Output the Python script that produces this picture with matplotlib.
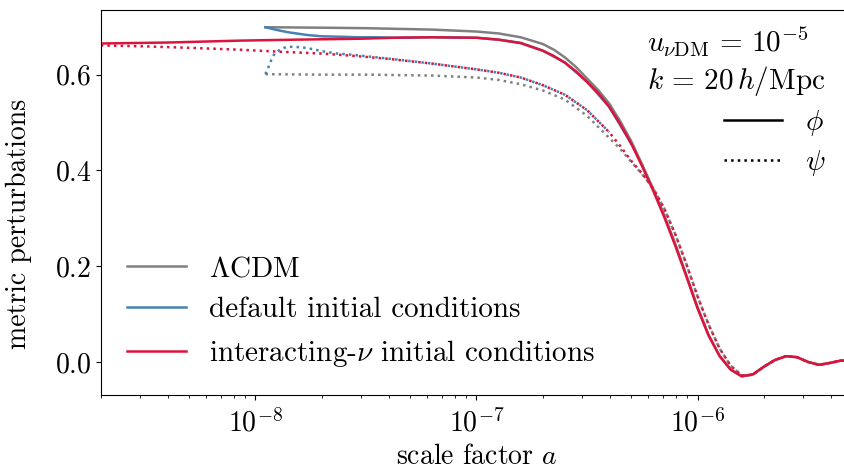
import numpy as np
import matplotlib
matplotlib.use('Agg')
import matplotlib.pyplot as plt
from matplotlib.lines import Line2D

plt.rcParams.update({
    'font.family': 'serif',
    'font.serif': ['cmr10'],
    'mathtext.fontset': 'cm',
    'axes.formatter.use_mathtext': True,
    'font.size': 20,
})

# log10 of scale factor for the late-time (shared) part of the curves
loga_late = [-6.3, -6.25, -6.2, -6.15, -6.1, -6.05, -6.0, -5.95, -5.9, -5.85, -5.8,
             -5.75, -5.7, -5.65, -5.6, -5.55, -5.5, -5.45, -5.4, -5.35, -5.3]

# interacting-nu initial conditions, phi
loga_int_phi = [-8.7, -8.4, -8.07, -7.82, -7.52, -7.38, -7.2, -7.0, -6.9, -6.8, -6.7,
                -6.65, -6.6, -6.55, -6.5, -6.45, -6.4, -6.35] + loga_late
int_phi = [0.665, 0.667, 0.671, 0.673, 0.675, 0.677, 0.678, 0.677, 0.673, 0.666, 0.650,
           0.639, 0.625, 0.607, 0.585, 0.562, 0.533, 0.497,
           0.456, 0.408, 0.357, 0.302, 0.242, 0.178, 0.112, 0.055, 0.012, -0.016, -0.030,
           -0.026, -0.010, 0.004, 0.012, 0.010, 0.000, -0.006, -0.002, 0.003, 0.001]

# interacting-nu initial conditions, psi
loga_int_psi = [-8.7, -8.5, -8.3, -8.07, -7.9, -7.7, -7.55, -7.4, -7.2, -7.0, -6.9,
                -6.8, -6.7, -6.6, -6.5, -6.4, -6.35] + loga_late
int_psi = [0.661, 0.659, 0.656, 0.652, 0.648, 0.644, 0.639, 0.633, 0.623, 0.611, 0.604,
           0.594, 0.578, 0.558, 0.526, 0.480, 0.451,
           0.420, 0.393, 0.362, 0.320, 0.266, 0.204, 0.137, 0.078, 0.028, -0.008, -0.028,
           -0.027, -0.010, 0.004, 0.012, 0.010, 0.000, -0.006, -0.002, 0.003, 0.001]

# LCDM, phi
loga_lcdm_phi = [-7.955, -7.7, -7.5, -7.2, -7.0, -6.9, -6.8, -6.7, -6.65, -6.6, -6.55,
                 -6.5, -6.45, -6.4, -6.35] + loga_late
lcdm_phi = [0.699, 0.698, 0.697, 0.694, 0.690, 0.686, 0.678, 0.664, 0.652, 0.636, 0.616,
            0.592, 0.568, 0.540, 0.503,
            0.461, 0.412, 0.361, 0.306, 0.246, 0.181, 0.115, 0.057, 0.013, -0.016, -0.030,
            -0.026, -0.010, 0.004, 0.012, 0.010, 0.000, -0.006, -0.002, 0.003, 0.001]

# LCDM, psi
loga_lcdm_psi = [-7.955, -7.7, -7.5, -7.2, -7.0, -6.9, -6.8, -6.7, -6.6, -6.5, -6.4,
                 -6.35] + loga_late
lcdm_psi = [0.601, 0.600, 0.600, 0.598, 0.594, 0.589, 0.580, 0.567, 0.548, 0.514, 0.468,
            0.445,
            0.418, 0.392, 0.362, 0.320, 0.266, 0.204, 0.137, 0.078, 0.028, -0.008, -0.028,
            -0.027, -0.010, 0.004, 0.012, 0.010, 0.000, -0.006, -0.002, 0.003, 0.001]

# default initial conditions, phi (hidden under the red curve once it has converged)
loga_def_phi = [-7.955, -7.92, -7.88, -7.845, -7.8, -7.77, -7.7, -7.6, -7.54, -7.45,
                -7.38, -7.2, -7.0, -6.9, -6.8, -6.7, -6.6, -6.5, -6.4, -6.3]
def_phi = [0.699, 0.695, 0.691, 0.688, 0.685, 0.683, 0.680, 0.679, 0.678, 0.678,
           0.677, 0.678, 0.677, 0.673, 0.666, 0.650, 0.625, 0.585, 0.533, 0.456]

# default initial conditions, psi
loga_def_psi = [-7.955, -7.94, -7.928, -7.914, -7.893, -7.86, -7.83, -7.79, -7.76, -7.7,
                -7.63, -7.575, -7.47, -7.35, -7.2, -7.0, -6.9, -6.8, -6.7, -6.6, -6.5, -6.4]
def_psi = [0.601, 0.617, 0.631, 0.644, 0.651, 0.658, 0.658, 0.657, 0.655, 0.649,
           0.644, 0.642, 0.637, 0.631, 0.623, 0.611, 0.604, 0.594, 0.578, 0.558, 0.526, 0.480]

c_lcdm = 'gray'
c_def = 'steelblue'
c_int = 'crimson'
lw = 1.8

fig = plt.figure(figsize=(8.45, 4.73), dpi=100)
ax = fig.add_axes([0.1195, 0.1649, 0.8888, 0.814])

ax.plot(10**np.array(loga_lcdm_phi), lcdm_phi, color=c_lcdm, lw=lw)
ax.plot(10**np.array(loga_lcdm_psi), lcdm_psi, color=c_lcdm, lw=lw, ls=':')
ax.plot(10**np.array(loga_def_phi), def_phi, color=c_def, lw=lw)
ax.plot(10**np.array(loga_def_psi), def_psi, color=c_def, lw=lw, ls=':')
ax.plot(10**np.array(loga_int_phi), int_phi, color=c_int, lw=lw)
ax.plot(10**np.array(loga_int_psi), int_psi, color=c_int, lw=lw, ls=':')

ax.set_xscale('log')
ax.set_xlim(2e-9, 5e-6)
ax.set_ylim(-0.069, 0.735)
ax.set_yticks([0.0, 0.2, 0.4, 0.6])
ax.tick_params(axis='x', which='major', pad=6)
ax.spines['right'].set_visible(False)
ax.set_xlabel('scale factor $a$', labelpad=5)
ax.set_ylabel('metric perturbations')
ax.yaxis.set_label_coords(-0.092, 0.445)

h1 = [Line2D([], [], color=c_lcdm, lw=lw),
      Line2D([], [], color=c_def, lw=lw),
      Line2D([], [], color=c_int, lw=lw)]
leg1 = ax.legend(h1, [r'$\Lambda$CDM', 'default initial conditions',
                      r'interacting-$\nu$ initial conditions'],
                 loc='lower left', frameon=False, fontsize=21)
ax.add_artist(leg1)

h2 = [Line2D([], [], color='k', lw=lw), Line2D([], [], color='k', lw=lw, ls=':')]
leg2 = ax.legend(h2, [r'$\phi$', r'$\psi$'], loc='upper right', frameon=False,
                 title='$u_{\\nu\\mathrm{DM}} \\,=\\, 10^{-5}$\n$k \\,=\\, 20\\,h/\\mathrm{Mpc}$',
                 alignment='right', bbox_to_anchor=(1.0, 1.03), fontsize=21,
                 title_fontsize=21, labelspacing=0.35)

fig.savefig('out.png', dpi=100)
